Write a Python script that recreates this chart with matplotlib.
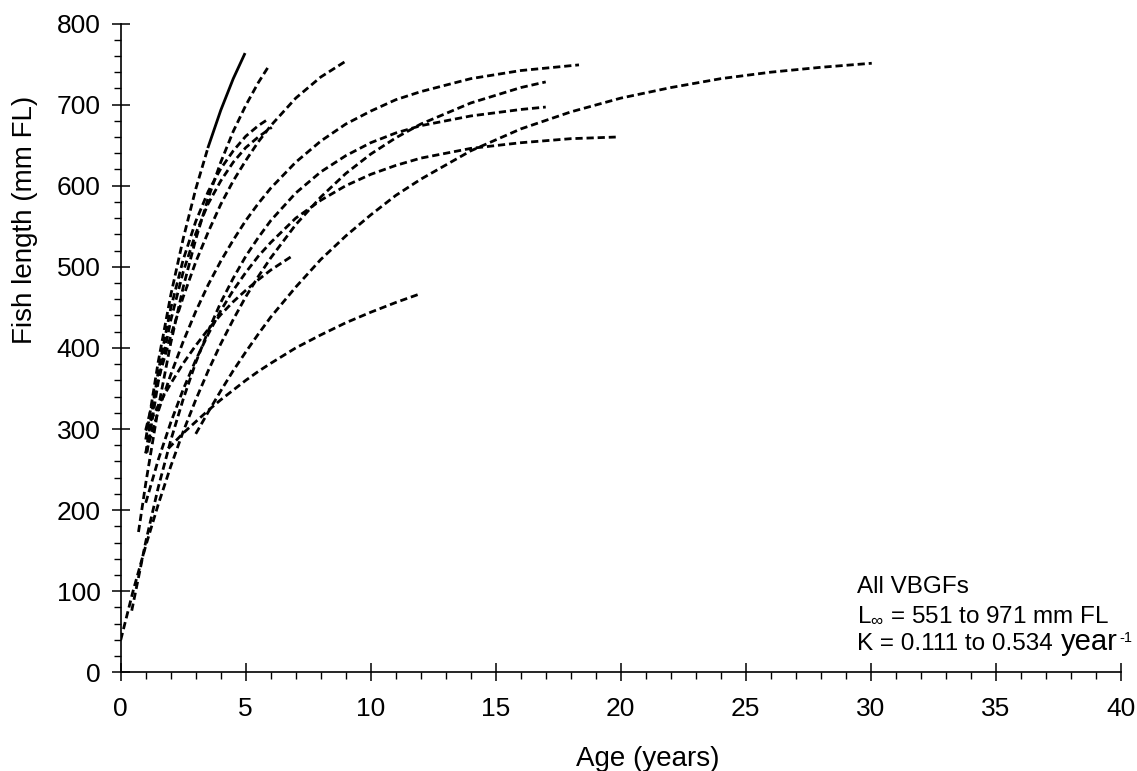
import matplotlib
matplotlib.use("Agg")
import matplotlib.pyplot as plt
from matplotlib.ticker import MultipleLocator

# ---- data (age in years, fork length in mm) ----
A_age = [1, 1.5, 2, 2.5, 3, 3.5, 4, 4.5, 4.95]
A_len = [287, 383, 465, 535, 596, 648, 693, 732, 762]
B_age = [0.71, 1, 1.5, 2, 2.5, 3, 3.5, 4, 4.5, 5, 5.5, 5.89]
B_len = [173, 233, 326, 406, 475, 534, 585, 629, 667, 699, 727, 746]
C_age = [1, 1.5, 2, 2.5, 3, 3.5, 4, 4.5, 5, 5.5, 6, 7, 8, 8.97]
C_len = [299, 361, 415, 463, 506, 543, 577, 606, 631, 654, 674, 708, 734, 753]
D_age = [1, 1.5, 2, 2.5, 3, 3.5, 4, 4.5, 5, 5.5, 5.94]
D_len = [270, 371, 449, 509, 556, 593, 621, 643, 661, 674, 683]
E_age = [1.05, 1.5, 2, 2.5, 3, 3.5, 4, 4.5, 5, 5.5, 6.04]
E_len = [271, 358, 434, 494, 541, 578, 606, 629, 647, 660, 672]
F_age = [1, 1.5, 2, 2.5, 3, 3.5, 4, 4.5, 5, 5.5, 6, 7, 8, 9, 10, 11, 12, 14, 16, 18.33]
F_len = [270, 322, 367, 408, 445, 478, 507, 533, 557, 578, 597, 629, 655, 676, 692, 706, 716, 732, 742, 749]
G_age = [0, 0.5, 1, 1.5, 2, 2.5, 3, 3.5, 4, 4.5, 5, 5.5, 6, 7, 8, 9, 10, 11, 12, 14, 16, 17]
G_len = [40, 101, 156, 207, 254, 297, 336, 372, 405, 435, 463, 488, 511, 552, 586, 615, 639, 659, 676, 702, 721, 728]
H_age = [0.44, 1, 1.5, 2, 2.5, 3, 3.5, 4, 4.5, 5, 5.5, 6, 7, 8, 9, 10, 11, 12, 14, 16, 17]
H_len = [76, 161, 228, 286, 337, 382, 421, 456, 486, 513, 536, 557, 591, 617, 637, 653, 665, 674, 686, 694, 697]
I_age = [1, 1.5, 2, 2.5, 3, 3.5, 4, 4.5, 5, 5.5, 6, 7, 8, 9, 10, 11, 12, 14, 16, 18, 19.8]
I_len = [209, 262, 308, 349, 385, 417, 446, 471, 493, 513, 530, 560, 582, 600, 614, 625, 634, 646, 653, 658, 660]
J_age = [3, 3.5, 4, 4.5, 5, 5.5, 6, 7, 8, 9, 10, 11, 12, 14, 16, 18, 20, 22, 24, 26, 28, 30.04]
J_len = [294, 321, 347, 372, 395, 417, 438, 475, 509, 538, 564, 588, 608, 643, 670, 691, 708, 721, 732, 740, 746, 751]
K_age = [1, 1.5, 2, 2.5, 3, 3.5, 4, 4.5, 5, 5.5, 6, 6.84]
K_len = [298, 329, 356, 381, 403, 423, 441, 457, 471, 484, 496, 513]
L_age = [1.9, 2, 2.5, 3, 3.5, 4, 4.5, 5, 5.5, 6, 7, 8, 9, 10, 11, 12]
L_len = [276, 279, 295, 309, 323, 336, 348, 360, 371, 381, 400, 416, 431, 444, 456, 467]

x_ticks = [0, 5, 10, 15, 20, 25, 30, 35, 40]
y_ticks = [0, 100, 200, 300, 400, 500, 600, 700, 800]
x_label = "Age (years)"
y_label = "Fish length (mm FL)"
note_lines = ["All VBGFs", r"L$_{\infty}$ = 551 to 971 mm FL", "K = 0.111 to 0.534"]
note_unit = "year"
note_exp = "-1"

# ---- style ----
plt.rcParams['font.family'] = ['Liberation Sans', 'DejaVu Sans']
plt.rcParams['mathtext.fontset'] = 'custom'
plt.rcParams['mathtext.rm'] = 'Liberation Sans'
plt.rcParams['mathtext.it'] = 'Liberation Sans:italic'
plt.rcParams['mathtext.bf'] = 'Liberation Sans:bold'

fig = plt.figure(figsize=(11.37, 7.71), dpi=100)
ax = fig.add_axes([0.1062, 0.128, 0.8795, 0.8415])

dash = (0, (2.6, 1.4))
lw = 2.0
curves = [(A_age, A_len), (B_age, B_len), (C_age, C_len), (D_age, D_len),
          (E_age, E_len), (F_age, F_len), (G_age, G_len), (H_age, H_len),
          (I_age, I_len), (J_age, J_len), (K_age, K_len), (L_age, L_len)]
for i, (a, l) in enumerate(curves):
    if i == 0:
        # first curve: dashed at young ages, solid at older ages
        n = a.index(3.5)
        ax.plot(a[:n + 1], l[:n + 1], color='black', lw=lw, linestyle=dash)
        ax.plot(a[n:], l[n:], color='black', lw=lw, linestyle='-')
    else:
        ax.plot(a, l, color='black', lw=lw, linestyle=dash)

ax.set_xlim(0, 40)
ax.set_ylim(0, 800)
ax.set_xticks(x_ticks)
ax.set_yticks(y_ticks)
ax.xaxis.set_minor_locator(MultipleLocator(1))
ax.yaxis.set_minor_locator(MultipleLocator(20))
ax.tick_params(which='major', direction='inout', length=13, width=1.1,
               labelsize=19, color='black')
ax.tick_params(axis='x', which='major', pad=11)
ax.tick_params(axis='y', which='major', pad=8)
ax.tick_params(which='minor', direction='out', length=5, width=1.0)
for s in ['top', 'right']:
    ax.spines[s].set_visible(False)
for s in ['left', 'bottom']:
    ax.spines[s].set_linewidth(1.2)

ax.set_xlabel(x_label, fontsize=20)
ax.set_ylabel(y_label, fontsize=20)
ax.xaxis.set_label_coords(0.527, -0.114)
ax.yaxis.set_label_coords(-0.083, 0.697)

note_x = 29.45
ax.text(note_x, 97.8, note_lines[0], fontsize=17.5, va='baseline', ha='left')
ax.text(note_x, 61.5, note_lines[1], fontsize=17.5, va='baseline', ha='left')
ax.text(note_x, 27.0, note_lines[2], fontsize=17.5, va='baseline', ha='left')
ax.text(37.6, 27.0, note_unit, fontsize=21, va='baseline', ha='left', clip_on=False)
ax.text(39.93, 37.0, note_exp, fontsize=10.5, va='baseline', ha='left', clip_on=False)

fig.savefig('out.png', dpi=100)
